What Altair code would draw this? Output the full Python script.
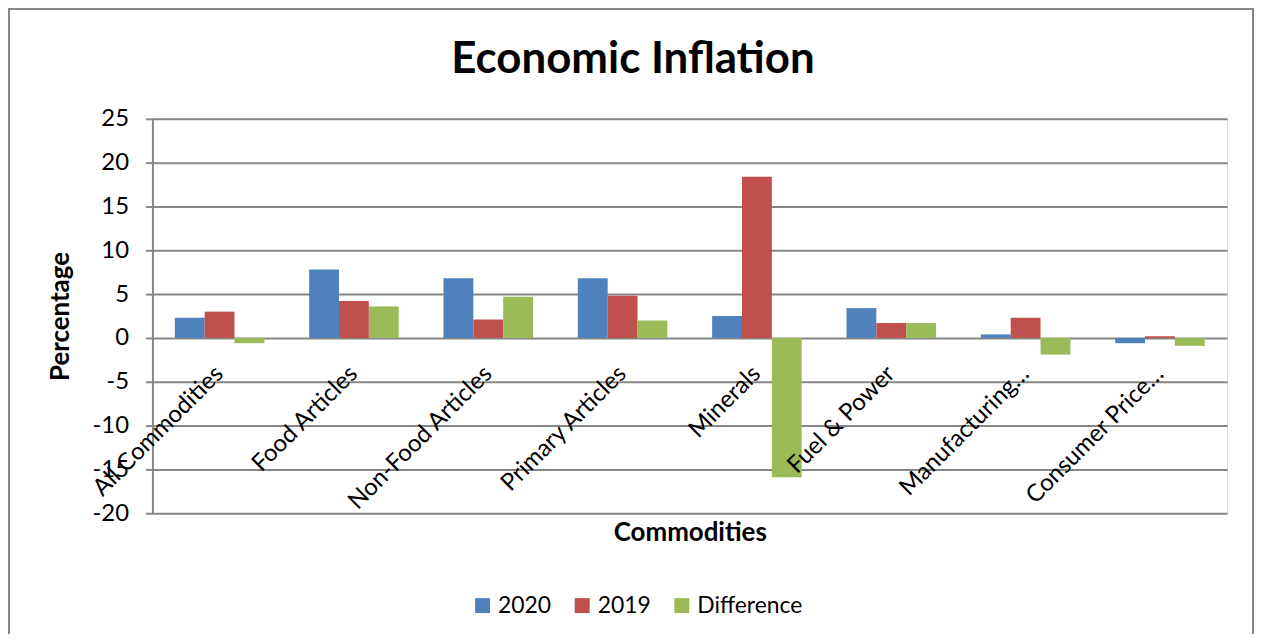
import altair as alt
import pandas as pd

categories = ["All Commodities", "Food Articles", "Non-Food Articles", "Primary Articles",
              "Minerals", "Fuel & Power", "Manufacturing…", "Consumer Price…"]
series_names = ["2020", "2019", "Difference"]
values_2020 = [2.3, 7.8, 6.8, 6.8, 2.5, 3.4, 0.4, -0.6]
values_2019 = [3.0, 4.2, 2.1, 4.8, 18.4, 1.7, 2.3, 0.2]
values_diff = [-0.6, 3.6, 4.7, 2.0, -15.9, 1.7, -1.9, -0.9]
y_ticks = [-20, -15, -10, -5, 0, 5, 10, 15, 20, 25]
colors = ["#4F81BD", "#C0504D", "#9BBB59"]

rows = []
for name, vals in zip(series_names, [values_2020, values_2019, values_diff]):
    for c, v in zip(categories, vals):
        rows.append({"Commodity": c, "Series": name, "Value": v})
df = pd.DataFrame(rows)

FONT = "Lato"
GRAY = "#868686"
W, H = 1079, 396

bars = alt.Chart(df).mark_bar().encode(
    x=alt.X("Commodity:N", sort=categories,
            scale=alt.Scale(paddingInner=1/3, paddingOuter=1/6),
            axis=alt.Axis(title="Commodities", offset=-176, domain=False, ticks=False,
                          labelAngle=-45, labelAlign="right", labelBaseline="middle",
                          labelPadding=32, labelFontSize=24, labelFont=FONT, labelColor="#000",
                          labelOverlap=False, labelBound=False, labelLimit=500, zindex=1,
                          titleFont=FONT, titleFontSize=26, titleFontWeight="bold",
                          titleColor="#000", titleY=195, titleBaseline="middle")),
    xOffset=alt.XOffset("Series:N", sort=series_names,
                        scale=alt.Scale(paddingInner=0, paddingOuter=0)),
    y=alt.Y("Value:Q", scale=alt.Scale(domain=[-20, 25], nice=False),
            axis=alt.Axis(title="Percentage", values=y_ticks, grid=True, gridColor=GRAY,
                          gridWidth=2, gridOpacity=1, domainColor=GRAY, domainWidth=2,
                          tickColor=GRAY, tickWidth=2, tickSize=7, labelPadding=17,
                          labelExpr="datum.value",
                          labelFontSize=24, labelFont=FONT, labelColor="#000",
                          titleFont=FONT, titleFontSize=26, titleFontWeight="bold",
                          titleColor="#000", titleX=-92, titleBaseline="middle")),
    color=alt.Color("Series:N", sort=series_names,
                    scale=alt.Scale(domain=series_names, range=colors),
                    legend=alt.Legend(title=None, orient="none", direction="horizontal",
                                      legendX=320, legendY=477, symbolType="square",
                                      symbolSize=225, symbolStrokeWidth=0, labelFontSize=23,
                                      labelFont=FONT, labelColor="#000", columnPadding=19,
                                      labelOffset=4, padding=0)),
)

frame = alt.Chart(df).mark_rect(fill=None, stroke=GRAY, strokeWidth=2, clip=False).encode(
    x=alt.value(-144), x2=alt.value(1105), y=alt.value(-111), y2=alt.value(H + 140)
)

chart = alt.layer(frame, bars).properties(
    width=W, height=H,
    title=alt.Title("Economic Inflation", font=FONT, fontSize=44, fontWeight="bold",
                    color="#000", anchor="middle", frame="group", baseline="alphabetic",
                    offset=-110, dx=-57),
    padding={"left": 145, "top": 110, "right": 28, "bottom": 120},
    autosize="none",
).configure_view(stroke=None).configure(background="white")

chart.save("out.html", embed_options={"renderer": "svg", "actions": False})
